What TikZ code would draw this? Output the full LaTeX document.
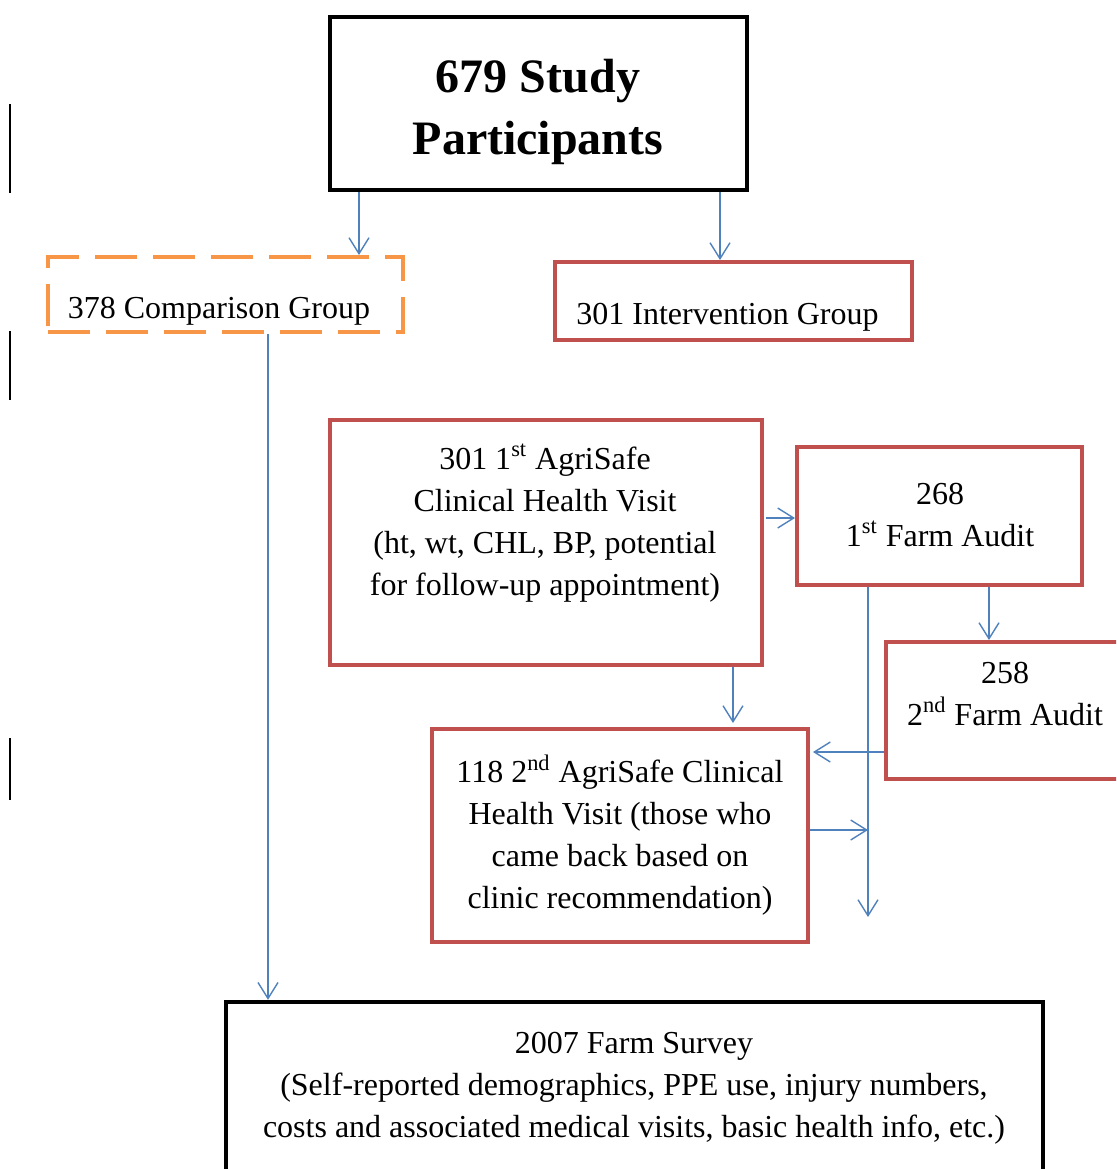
\documentclass[tikz,border=0pt]{standalone}
\usepackage{fontspec}
\setmainfont{Liberation Serif}
\usetikzlibrary{arrows.meta}

\definecolor{boxred}{HTML}{C0504D}
\definecolor{boxorange}{HTML}{F79646}
\definecolor{arrowblue}{HTML}{4F81BD}

\begin{document}
\begin{tikzpicture}[x=0.5pt,y=-0.5pt]

\tikzset{box/.style = {shape=rectangle,draw,line width=2pt,inner sep=0pt}}
\tikzset{redbox/.style = {box,draw=boxred}}
\tikzset{dashbox/.style = {box,draw=boxorange,dash pattern=on 21pt off 8pt}}
\tikzset{txt/.style = {align=center,font=\fontsize{16}{21}\selectfont}}
\tikzset{edge/.style = {-{Straight Barb[length=8pt,width=10pt]},draw=arrowblue,line width=0.7pt}}

\useasboundingbox (0,0) rectangle (1116,1169);
\clip (0,0) rectangle (1116,1169);

%boxes
\node[box, line width=2.2pt, minimum width=208.5pt, minimum height=86.5pt] (title) at (538.5,103.5) {};
\node[dashbox, minimum width=177.5pt, minimum height=37.5pt] (comp) at (225.5,294.5) {};
\node[redbox, minimum width=178.5pt, minimum height=39pt] (interv) at (733.5,301) {};
\node[redbox, minimum width=216pt, minimum height=122.5pt] (clin) at (546,542.5) {};
\node[redbox, minimum width=142.5pt, minimum height=69pt] (audit1) at (939.5,516) {};
\node[redbox, minimum width=122pt, minimum height=68.5pt] (audit2) at (1008,710.5) {};
\node[redbox, minimum width=188pt, minimum height=106.5pt] (visit2) at (620,835.5) {};
\node[box, line width=2.2pt, minimum width=408.5pt, minimum height=99pt] (survey) at (634.5,1101) {};

%texts
\node[align=center, font=\fontsize{24}{31}\selectfont\bfseries] (titletxt) at (538,112) {679 Study\\Participants};
\node[txt] (comptxt) at (219,311) {378 Comparison Group};
\node[txt] (intervtxt) at (727.5,317) {301 Intervention Group};
\node[txt] (clintxt) at (545,523) {301 1\textsuperscript{st} AgriSafe\\Clinical Health Visit\\(ht, wt, CHL, BP, potential\\for follow-up appointment)};
\node[txt] (audit1txt) at (940,515) {268\\1\textsuperscript{st} Farm Audit};
\node[txt] (audit2txt) at (1005,694) {258\\2\textsuperscript{nd} Farm Audit};
\node[txt] (visit2txt) at (620,835) {118 2\textsuperscript{nd} AgriSafe Clinical\\Health Visit (those who\\came back based on\\clinic recommendation)};
\node[txt] (surveytxt) at (634,1088) {2007 Farm Survey\\(Self-reported demographics, PPE use, injury numbers,\\costs and associated medical visits, basic health info, etc.)};

%edges
\coordinate (c1) at (359,0);
\coordinate (c2) at (720,0);
\coordinate (c3) at (268,0);
\coordinate (c4) at (0,518);
\coordinate (c5) at (989,0);
\coordinate (c6) at (733,0);
\coordinate (drop) at (868,917);
\coordinate (c8) at (0,752);
\coordinate (c9) at (0,830);
\draw[edge] (title.south -| c1) -- (comp.north -| c1);
\draw[edge] (title.south -| c2) -- (interv.north -| c2);
\draw[edge] (comp.south -| c3) -- (survey.north -| c3);
\draw[edge, shorten <=1pt] (clin.east |- c4) -- (audit1.west |- c4);
\draw[edge] (audit1.south -| c5) -- (audit2.north -| c5);
\draw[edge, shorten >=2pt] (clin.south -| c6) -- (visit2.north -| c6);
\draw[edge] (audit1.south -| drop) -- (drop);
\draw[edge, shorten >=1.5pt] (audit2.west |- c8) -- (visit2.east |- c8);
\draw[edge] (visit2.east |- c9) -- (drop |- c9);

%margin bars
\draw[line width=1pt] (10,104) -- (10,193);
\draw[line width=1pt] (10,331) -- (10,400);
\draw[line width=1pt] (10,738) -- (10,800);

\end{tikzpicture}
\end{document}
